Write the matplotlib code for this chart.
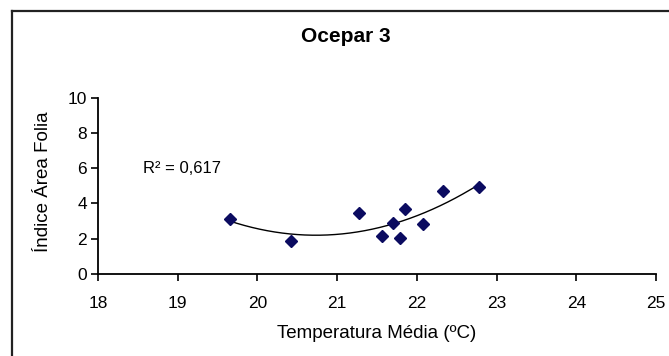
import numpy as np
import matplotlib.pyplot as plt
from matplotlib.lines import Line2D

plt.rcParams['font.family'] = ['Liberation Sans', 'DejaVu Sans']

# dados
temperatura = [19.65, 20.42, 21.28, 21.56, 21.70, 21.79, 21.85, 22.08, 22.33, 22.78]
iaf = [3.10, 1.90, 3.45, 2.16, 2.88, 2.05, 3.69, 2.84, 4.70, 4.93]
x_ticks = [18, 19, 20, 21, 22, 23, 24, 25]
y_ticks = [0, 2, 4, 6, 8, 10]
r2_text = "R² = 0,617"

fig = plt.figure(figsize=(6.69, 3.56), dpi=100, facecolor='white')
ax = fig.add_axes([98 / 669, 1 - 274 / 356, 558 / 669, 176.3 / 356])

# linha de tendencia polinomial (ordem 2)
coef = np.polyfit(temperatura, iaf, 2)
xs = np.linspace(min(temperatura), max(temperatura), 200)
ax.plot(xs, np.polyval(coef, xs), color='black', lw=1.0)

ax.plot(temperatura, iaf, linestyle='none', marker='D', markersize=5.8,
        color='#0b0b60', markeredgecolor='#0b0b60')

ax.set_xlim(18, 25)
ax.set_ylim(0, 10)
ax.set_xticks(x_ticks)
ax.set_yticks(y_ticks)
ax.spines['top'].set_visible(False)
ax.spines['right'].set_visible(False)
ax.spines['left'].set_linewidth(1.3)
ax.spines['bottom'].set_linewidth(1.3)
ax.tick_params(axis='x', direction='out', length=5, width=1.2, pad=11, labelsize=12.5)
ax.tick_params(axis='y', direction='out', length=5, width=1.2, pad=3, labelsize=12.5)

ax.text(18.56, 6.0, r2_text, fontsize=12, va='center', ha='left')

fig.text(346 / 669, 1 - 37 / 356, 'Ocepar 3', fontsize=15, fontweight='bold',
         ha='center', va='center')
fig.text(377 / 669, 1 - 333 / 356, 'Temperatura Média (ºC)', fontsize=13.5,
         ha='center', va='center')
fig.text(43 / 669, 1 - 182 / 356, 'Índice Área Folia', fontsize=13.5,
         rotation=90, ha='center', va='center')

# moldura do grafico (so esquerda e topo aparecem)
fig.add_artist(Line2D([12 / 669, 12 / 669], [0, 1 - 11 / 356], transform=fig.transFigure,
                      color='#222222', lw=1.6))
fig.add_artist(Line2D([12 / 669, 1], [1 - 11 / 356, 1 - 11 / 356], transform=fig.transFigure,
                      color='#222222', lw=1.6))

fig.savefig('out.png', dpi=100)
